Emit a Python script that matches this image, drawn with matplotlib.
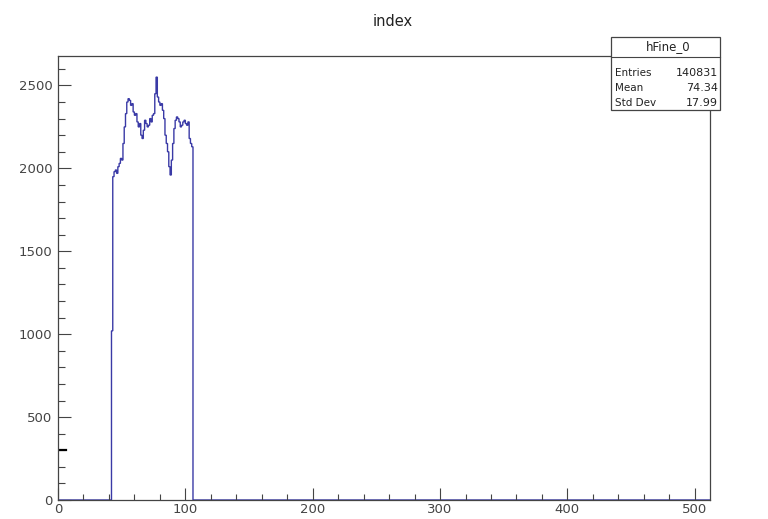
import numpy as np
import matplotlib
matplotlib.use("Agg")
import matplotlib.pyplot as plt
from matplotlib.patches import Rectangle
from matplotlib.ticker import MultipleLocator

plt.rcParams['font.family'] = ['DejaVu Sans']

# Histogram hFine_0: 512 unit-width bins, filled bins start at 42
n_bins = 512
first_bin = 42
counts_filled = [
    1020, 1950, 1980, 1990, 1970, 2010, 2030, 2060, 2050, 2150,
    2250, 2330, 2400, 2420, 2410, 2380, 2390, 2340, 2320, 2330,
    2280, 2250, 2270, 2200, 2180, 2230, 2290, 2270, 2250, 2260,
    2300, 2280, 2320, 2330, 2450, 2550, 2430, 2400, 2380, 2390,
    2350, 2300, 2200, 2150, 2100, 2010, 1960, 2050, 2150, 2240,
    2290, 2310, 2300, 2280, 2250, 2260, 2280, 2290, 2270, 2260,
    2280, 2180, 2150, 2130,
]
title = "index"
stats_name = "hFine_0"
stats_labels = ["Entries", "Mean", "Std Dev"]
stats_values = ["140831", "74.34", "17.99"]
marker_level = 300

counts = np.zeros(n_bins)
counts[first_bin:first_bin + len(counts_filled)] = counts_filled
edges = np.arange(n_bins + 1)

fig = plt.figure(figsize=(7.68, 5.19), dpi=100)
ax = fig.add_axes([58 / 768, 1 - 500 / 519, (710 - 58) / 768, (500 - 56) / 519])

ax.stairs(counts, edges, color='#3a3aa6', linewidth=1.0)
ax.plot([0, 6], [marker_level, marker_level], color='black', linewidth=1.6)

ax.set_xlim(0, n_bins)
ax.set_ylim(0, max(counts_filled) * 1.05)

ax.xaxis.set_major_locator(MultipleLocator(100))
ax.xaxis.set_minor_locator(MultipleLocator(20))
ax.yaxis.set_major_locator(MultipleLocator(500))
ax.yaxis.set_minor_locator(MultipleLocator(100))

ax.tick_params(axis='both', which='both', direction='in', top=False, right=False,
               colors='#444444', labelcolor='#444444', labelsize=9.5, width=0.8)
ax.tick_params(axis='x', which='major', length=9, pad=2)
ax.tick_params(axis='x', which='minor', length=4.5)
ax.tick_params(axis='y', which='major', length=9, pad=4)
ax.tick_params(axis='y', which='minor', length=5)
for s in ax.spines.values():
    s.set_color('#444444')
    s.set_linewidth(0.9)

fig.text(393 / 768, 1 - 22 / 519, title, ha='center', va='center',
         fontsize=10.5, color='#222222')

# Statistics box
bx0, bx1 = 611 / 768, 720 / 768
by_top, by_bot = 1 - 37 / 519, 1 - 110 / 519
by_sep = 1 - 57 / 519
fig.patches.append(Rectangle((bx0, by_bot), bx1 - bx0, by_top - by_bot,
                             transform=fig.transFigure, facecolor='white',
                             edgecolor='#444444', linewidth=0.9, zorder=5))
fig.add_artist(plt.Line2D([bx0, bx1], [by_sep, by_sep], transform=fig.transFigure,
                          color='#444444', linewidth=0.8, zorder=6))
fig.text((bx0 + bx1) / 2 + 3 / 768, (by_top + by_sep) / 2, stats_name, ha='center',
         va='center', fontsize=8.5, color='#222222', zorder=7)
row_px = [73, 88, 103]
for lab, val, ypx in zip(stats_labels, stats_values, row_px):
    fig.text(bx0 + 4 / 768, 1 - ypx / 519, lab, ha='left', va='center',
             fontsize=7.5, color='#222222', zorder=7)
    fig.text(bx1 - 2 / 768, 1 - ypx / 519, val, ha='right', va='center',
             fontsize=8, color='#222222', zorder=7)

fig.savefig("out.png", dpi=100)
